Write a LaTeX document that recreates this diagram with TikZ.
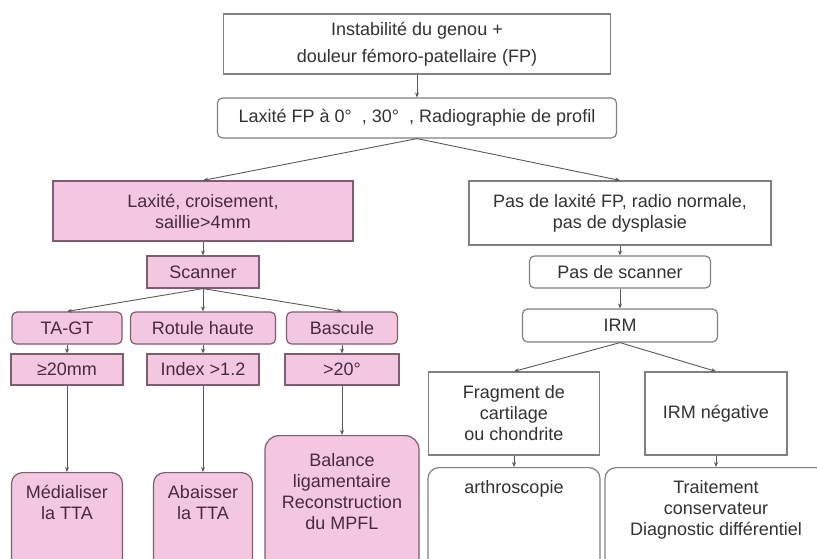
\documentclass[tikz,border=0pt]{standalone}
\usepackage{fontspec}
\setmainfont{Liberation Sans}
\usetikzlibrary{arrows.meta}

\definecolor{pinkfill}{RGB}{243,199,224}
\definecolor{pinkline}{RGB}{128,92,114}
\definecolor{greyline}{RGB}{128,128,128}
\definecolor{txtgrey}{RGB}{50,50,50}
\definecolor{txtpink}{RGB}{72,42,62}

\begin{document}
\begin{tikzpicture}[x=1pt,y=-1pt,
    box/.style={draw=greyline,line width=1.2pt,fill=white,text=txtgrey,align=center,
        font=\fontsize{18}{21}\selectfont,inner sep=0pt},
    pinkbox/.style={box,fill=pinkfill,draw=pinkline,text=txtpink},
    rbox/.style={box,rounded corners=5pt},
    rpinkbox/.style={pinkbox,rounded corners=5pt},
    tall/.style={anchor=north,text depth=130pt,inner ysep=#1},
    arr/.style={-{Stealth[length=5pt,width=4pt]},draw=black!65,line width=0.9pt}]

    \useasboundingbox (0,0) rectangle (817,558);
    \clip (0,0) rectangle (817,558);

    %top
    \node[box,minimum width=387pt,minimum height=60pt,font=\fontsize{18}{27}\selectfont] (instab) at (417,44)
        {Instabilité du genou +\\douleur fémoro-patellaire (FP)};
    \node[rbox,minimum width=399pt,minimum height=40pt] (laxfp) at (417,118)
        {Laxité FP à 0°\ \ , 30°\ \ , Radiographie\ de profil};

    %left branch
    \node[pinkbox,minimum width=300pt,minimum height=60pt] (crois) at (203,211)
        {Laxité, croisement,\\saillie>4mm};
    \node[pinkbox,minimum width=112pt,minimum height=32pt] (scanner) at (203,272) {Scanner};
    \node[rpinkbox,minimum width=110pt,minimum height=32pt] (tagt) at (67,328) {TA-GT};
    \node[rpinkbox,minimum width=145pt,minimum height=32pt] (rotule) at (203,328) {Rotule haute};
    \node[rpinkbox,minimum width=111pt,minimum height=32pt] (bascule) at (342,328) {Bascule};
    \node[pinkbox,minimum width=112pt,minimum height=31pt] (mm20) at (67,369.5) {≥20mm};
    \node[pinkbox,minimum width=112pt,minimum height=31pt] (index) at (203,369.5) {Index >1.2};
    \node[pinkbox,minimum width=114pt,minimum height=31pt] (deg20) at (342,369.5) {>20°};
    \node[rpinkbox,rounded corners=11pt,minimum width=111pt,tall=12pt,text height=35pt] (medial) at (67,472)
        {Médialiser\\la TTA};
    \node[rpinkbox,rounded corners=11pt,minimum width=99pt,tall=12pt,text height=35pt] (abaiss) at (203,472)
        {Abaisser\\la TTA};
    \node[rpinkbox,rounded corners=14pt,minimum width=154pt,tall=17pt,text height=77pt] (balance) at (342,435)
        {Balance\\ligamentaire\\Reconstruction\\du MPFL};

    %right branch
    \node[box,minimum width=302pt,minimum height=64pt] (nolax) at (620,213)
        {Pas de laxité FP, radio normale,\\pas de dysplasie};
    \node[rbox,minimum width=181pt,minimum height=32pt] (noscan) at (620,272) {Pas de scanner};
    \node[rbox,minimum width=195pt,minimum height=33pt] (irm) at (620,325.5) {IRM};
    \node[box,minimum width=171pt,minimum height=83pt] (fragm) at (514,413.5)
        {Fragment de\\cartilage\\ou chondrite};
    \node[box,minimum width=142pt,minimum height=83pt] (irmneg) at (716,413.5) {IRM négative};
    \node[rbox,rounded corners=11pt,minimum width=172pt,tall=12pt,text height=14pt] (arthro) at (514,467)
        {arthroscopie};
    \node[rbox,rounded corners=11pt,minimum width=222pt,tall=12pt,text height=56pt] (traitem) at (716,467)
        {Traitement\\conservateur\\Diagnostic différentiel};

    %arrows
    \draw[arr] (instab.south) -- (laxfp.north);
    \draw[arr] (laxfp.south) -- (crois.north);
    \draw[arr] (laxfp.south) -- (nolax.north);
    \draw[arr] (crois.south) -- (scanner.north);
    \draw[arr] (scanner.south) -- (tagt.north);
    \draw[arr] (scanner.south) -- (rotule.north);
    \draw[arr] (scanner.south) -- (bascule.north);
    \draw[arr] (tagt.south) -- (mm20.north);
    \draw[arr] (rotule.south) -- (index.north);
    \draw[arr] (bascule.south) -- (deg20.north);
    \draw[arr] (mm20.south) -- (medial.north);
    \draw[arr] (index.south) -- (abaiss.north);
    \draw[arr] (deg20.south) -- (balance.north);
    \draw[arr] (nolax.south) -- (noscan.north);
    \draw[arr] (noscan.south) -- (irm.north);
    \draw[arr] (irm.south) -- (fragm.north);
    \draw[arr] (irm.south) -- (irmneg.north);
    \draw[arr] (fragm.south) -- (arthro.north);
    \draw[arr] (irmneg.south) -- (traitem.north);
\end{tikzpicture}
\end{document}
